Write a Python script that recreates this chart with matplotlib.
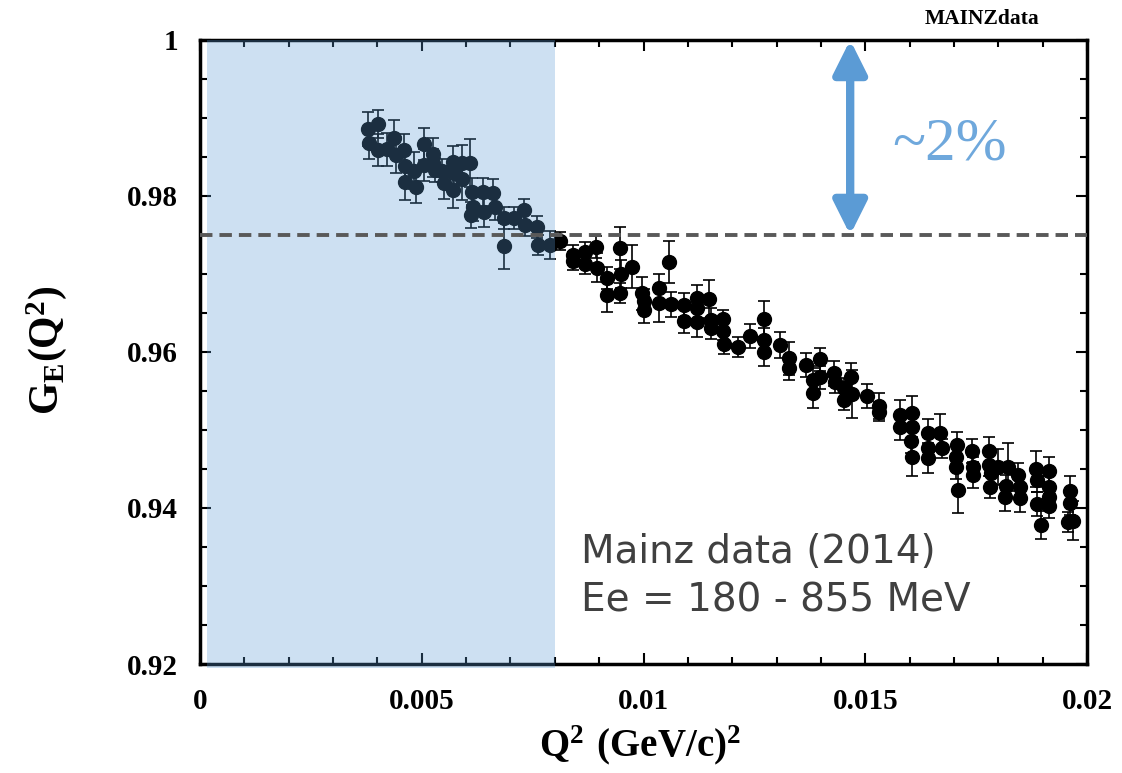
import numpy as np
import matplotlib
matplotlib.use('Agg')
import matplotlib.pyplot as plt
from matplotlib.ticker import MultipleLocator, FuncFormatter

plt.rcParams['mathtext.fontset'] = 'custom'
plt.rcParams['mathtext.rm'] = 'Liberation Serif'
plt.rcParams['mathtext.bf'] = 'Liberation Serif:bold'

# Mainz G_E(Q^2) points
q2 = [0.00378, 0.00401, 0.00381, 0.00401, 0.00421, 0.00438, 0.00441, 0.00461, 0.00462, 0.00462,
      0.00483, 0.00486, 0.00504, 0.00504, 0.00526, 0.00526, 0.00530, 0.00546, 0.00549, 0.00571,
      0.00573, 0.00571, 0.00590, 0.00591, 0.00609, 0.00613, 0.00616, 0.00611, 0.00637, 0.00641,
      0.00661, 0.00664, 0.00686, 0.00709, 0.00731, 0.00733, 0.00686, 0.00759, 0.00761, 0.00789,
      0.00812, 0.00840, 0.00842, 0.00867, 0.00867, 0.00893, 0.00895, 0.00918, 0.00918, 0.00947,
      0.00949, 0.00947, 0.00975, 0.00997, 0.01001, 0.01001, 0.01036, 0.01036, 0.01058, 0.01062,
      0.01091, 0.01091, 0.01120, 0.01120, 0.01120, 0.01148, 0.01152, 0.01152, 0.01180, 0.01180,
      0.01182, 0.01212, 0.01240, 0.01272, 0.01272, 0.01272, 0.01308, 0.01327, 0.01329, 0.01366,
      0.01383, 0.01398, 0.01398, 0.01383, 0.01430, 0.01432, 0.01451, 0.01451, 0.01468, 0.01469,
      0.01505, 0.01531, 0.01531, 0.01578, 0.01578, 0.01606, 0.01606, 0.01603, 0.01606, 0.01641,
      0.01641, 0.01641, 0.01669, 0.01674, 0.01706, 0.01705, 0.01705, 0.01709, 0.01740, 0.01744,
      0.01744, 0.01778, 0.01779, 0.01784, 0.01782, 0.01800, 0.01821, 0.01817, 0.01814, 0.01845,
      0.01849, 0.01849, 0.01884, 0.01887, 0.01887, 0.01896, 0.01914, 0.01914, 0.01914, 0.01914,
      0.01962, 0.01962, 0.01958, 0.01969]

ge = [0.98855, 0.98923, 0.98683, 0.98590, 0.98599, 0.98740, 0.98526, 0.98590, 0.98385, 0.98183,
      0.98324, 0.98119, 0.98667, 0.98397, 0.98538, 0.98419, 0.98333, 0.98324, 0.98171, 0.98440,
      0.98299, 0.98077, 0.98419, 0.98214, 0.98419, 0.98055, 0.97863, 0.97756, 0.98055, 0.97799,
      0.98035, 0.97863, 0.97714, 0.97714, 0.97821, 0.97628, 0.97359, 0.97606, 0.97372, 0.97372,
      0.97423, 0.97244, 0.97167, 0.97286, 0.97124, 0.97350, 0.97081, 0.96953, 0.96731, 0.97337,
      0.96996, 0.96753, 0.97094, 0.96753, 0.96654, 0.96538, 0.96824, 0.96624, 0.97150, 0.96612,
      0.96603, 0.96397, 0.96696, 0.96568, 0.96388, 0.96679, 0.96410, 0.96304, 0.96423, 0.96269,
      0.96099, 0.96068, 0.96205, 0.96419, 0.96154, 0.96004, 0.96090, 0.95919, 0.95791, 0.95833,
      0.95641, 0.95906, 0.95676, 0.95478, 0.95727, 0.95619, 0.95535, 0.95385, 0.95683, 0.95462,
      0.95436, 0.95308, 0.95235, 0.95192, 0.95042, 0.95214, 0.95042, 0.94859, 0.94658, 0.94965,
      0.94765, 0.94637, 0.94965, 0.94765, 0.94808, 0.94650, 0.94522, 0.94231, 0.94731, 0.94522,
      0.94423, 0.94735, 0.94551, 0.94445, 0.94273, 0.94522, 0.94522, 0.94282, 0.94137, 0.94423,
      0.94273, 0.94124, 0.94496, 0.94359, 0.94051, 0.93782, 0.94478, 0.94265, 0.94145, 0.94026,
      0.94222, 0.94060, 0.93824, 0.93837]

ge_err = [.0022, .0018, .0021, .0021, .0021, .0023, .0023, .0021, .0017, .0023,
          .0024, .0021, .0020, .0020, .0021, .0018, .0015, .0015, .0021, .0020,
          .0015, .0023, .0023, .0026, .0031, .0017, .0018, .0017, .0018, .0020,
          .0018, .0017, .0014, .0014, .0014, .0014, .0029, .0014, .0013, .0018,
          .0012, .0013, .0012, .0012, .0012, .0014, .0019, .0014, .0022, .0027,
          .0018, .0013, .0028, .0021, .0015, .0017, .0017, .0024, .0027, .0016,
          .0015, .0016, .0016, .0015, .0019, .0024, .0015, .0014, .0012, .0012,
          .0012, .0013, .0015, .0023, .0015, .0019, .0017, .0021, .0015, .0016,
          .0015, .0015, .0015, .0019, .0016, .0015, .0013, .0013, .0018, .0031,
          .0015, .0017, .0012, .0019, .0017, .0022, .0015, .0015, .0025, .0018,
          .0015, .0019, .0024, .0012, .0017, .0015, .0015, .0030, .0015, .0013,
          .0017, .0017, .0014, .0014, .0014, .0023, .0031, .0014, .0017, .0016,
          .0014, .0018, .0023, .0015, .0015, .0018, .0017, .0014, .0014, .0015,
          .0019, .0015, .0013, .0025]

shade_range = (0.00015, 0.008)
ref_level = 0.975

fig = plt.figure(figsize=(11.22, 7.73), dpi=100)
ax = fig.add_axes([0.1783, 0.141, 0.7905, 0.8073])

ax.errorbar(q2, ge, yerr=ge_err, fmt='o', color='black', ms=10,
            elinewidth=1.2, capsize=4, capthick=1.2, zorder=2)

# low-Q2 region, drawn over the points
ax.axvspan(shade_range[0], shade_range[1], ymin=-0.007, ymax=1, color='#5B9BD5',
           alpha=0.3, lw=0, zorder=3, clip_on=False)

ax.axhline(ref_level, color='#595959', lw=2.8, dashes=(3.2, 1.8), zorder=4)

ax.annotate('', xy=(0.01466, 1.0), xytext=(0.01466, ref_level),
            arrowprops=dict(arrowstyle='<|-|>,head_length=1.0,head_width=0.5',
                            mutation_scale=20, lw=6, color='#5B9BD5',
                            shrinkA=0, shrinkB=0), zorder=5)
ax.text(0.0156, 0.9847, '~2%', family='Liberation Serif', fontsize=44,
        color='#6FA8DC', va='baseline', ha='left')

ax.text(0.0086, 0.93295, 'Mainz data (2014)', family='DejaVu Sans', fontsize=28,
        color='#404040', va='baseline')
ax.text(0.0086, 0.92667, 'Ee = 180 - 855 MeV', family='DejaVu Sans', fontsize=28,
        color='#404040', va='baseline')

ax.set_xlim(0, 0.02)
ax.set_ylim(0.92, 1.0)
ax.xaxis.set_major_locator(MultipleLocator(0.005))
ax.xaxis.set_minor_locator(MultipleLocator(0.001))
ax.yaxis.set_major_locator(MultipleLocator(0.02))
ax.yaxis.set_minor_locator(MultipleLocator(0.005))
fmt = FuncFormatter(lambda v, p: '%g' % round(v, 4))
ax.xaxis.set_major_formatter(fmt)
ax.yaxis.set_major_formatter(fmt)

ax.tick_params(which='both', direction='in', top=True, right=True, width=1.5)
ax.tick_params(which='major', length=8)
ax.tick_params(which='minor', length=5)
ax.tick_params(axis='x', pad=17)
ax.tick_params(axis='y', pad=16)
for lab in ax.get_xticklabels() + ax.get_yticklabels():
    lab.set_family('Liberation Serif')
    lab.set_fontweight('bold')
    lab.set_fontsize(21)
for s in ax.spines.values():
    s.set_linewidth(2.5)

ax.set_xlabel(r'$\mathbf{Q^2\ (GeV/c)^2}$', fontsize=28)
ax.set_ylabel(r'$\mathbf{G_E(Q^2)}$', fontsize=30)
ax.xaxis.set_label_coords(0.496, -0.095)
ax.yaxis.set_label_coords(-0.148, 0.503)

fig.text(0.875, 0.969, 'MAINZdata', family='Liberation Serif', fontweight='bold',
         fontsize=15.5, ha='center', va='baseline')

fig.savefig('out.png', dpi=100)
